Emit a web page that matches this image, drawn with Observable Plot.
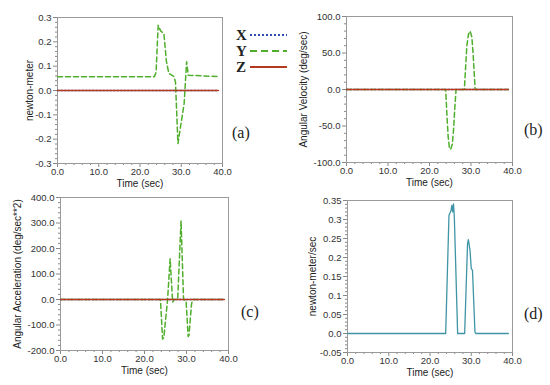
<!DOCTYPE html>
<html>
<head>
<meta charset="utf-8">
<script src="https://cdn.jsdelivr.net/npm/d3@7"></script>
<script src="https://cdn.jsdelivr.net/npm/@observablehq/plot@0.6"></script>
<style>
  html, body { margin: 0; padding: 0; background: #fff; }
  #wrap { position: relative; width: 550px; height: 385px; overflow: hidden; font-family: "Liberation Sans", Arial, sans-serif; }
  #wrap > .p { position: absolute; }
  .tag { position: absolute; font-family: "Liberation Serif", "Times New Roman", serif; font-size: 16px; color: #222; }
  .leg { position: absolute; left: 236px; top: 27px; font-family: "Liberation Serif", "Times New Roman", serif; font-weight: bold; font-size: 15px; color: #222; }
  .leg div { height: 16px; line-height: 16px; display: flex; align-items: center; }
  .leg span { display: inline-block; width: 14px; }
</style>
</head>
<body>
<div id="wrap"></div>
<script>
// ---------- data ----------
const xTicks = [0, 10, 20, 30, 40];
const xMinor = [2, 4, 6, 8, 12, 14, 16, 18, 22, 24, 26, 28, 32, 34, 36, 38];
const seriesNames = ["X", "Y", "Z"];
const seriesColors = ["#2f4fb8", "#4fae2c", "#b5391f"];

// (a) torque, newton-meter
const aTime = [0, 23.5, 23.9, 24.4, 25.0, 25.8, 26.4, 27.0, 28.2, 28.6, 29.2, 30.7, 31.3, 31.7, 39];
const aY    = [0.057, 0.057, 0.075, 0.268, 0.245, 0.234, 0.12, 0.07, 0.058, 0.035, -0.218, -0.053, 0.118, 0.063, 0.057];
const aXTime = [0, 39];
const aX     = [0, 0];
const aZTime = [0, 39];
const aZ     = [0, 0];
const aYTicks = [-0.3, -0.2, -0.1, 0, 0.1, 0.2, 0.3];

// (b) angular velocity, deg/sec
const bTime = [0, 23.9, 24.2, 24.5, 24.8, 25.1, 25.5, 25.8, 26.1, 26.4, 28.4, 28.7, 29.0, 29.4, 29.8, 30.2, 30.5, 30.8, 31.0, 39];
const bY    = [0, 0, -35, -65, -80, -82, -75, -55, -25, 0, 0, 30, 60, 76, 80, 72, 50, 20, 0, 0];
const bX    = [0, 0];
const bZ    = [0, 0];
const bYTicks = [-100, -50, 0, 50, 100];

// (c) angular acceleration, deg/sec**2
const cTime = [0, 23.8, 24.3, 24.6, 25.5, 26.1, 26.7, 27.1, 27.9, 28.7, 29.3, 29.9, 30.4, 30.6, 31.2, 31.5, 39];
const cY    = [0, 0, -155, -150, 0, 160, -10, 0, 0, 308, 0, -5, -145, -140, -17, 0, 0];
const cX    = [0, 0];
const cZ    = [0, 0];
const cYTicks = [-200, -100, 0, 100, 200, 300, 400];

// (d) newton-meter/sec
const dTime = [0, 23.8, 24.6, 25.1, 25.3, 25.5, 25.7, 25.9, 26.7, 28.4, 29.1, 29.3, 29.7, 30.0, 30.3, 30.9, 31.1, 39];
const dVal  = [0, 0, 0.311, 0.324, 0.337, 0.32, 0.341, 0.306, 0, 0, 0.236, 0.247, 0.219, 0.171, 0.166, 0.004, 0, 0];
const dYTicks = [-0.05, 0, 0.05, 0.1, 0.15, 0.2, 0.25, 0.3, 0.35];
const dColor = "#3f95a6";

// ---------- helpers ----------
const wrap = document.getElementById("wrap");
const toRows = (ts, vs) => ts.map((t, i) => ({t, v: vs[i]}));
function minorBetween(ticks, n) {
  const out = [];
  for (let i = 0; i < ticks.length - 1; i++) {
    const a = ticks[i], b = ticks[i + 1];
    for (let k = 1; k < n; k++) out.push(a + (b - a) * k / n);
  }
  return out;
}
const fmt1 = d => (Math.abs(d) < 1e-9 ? 0 : d).toFixed(1);
const fmtD = d => Math.abs(d) < 1e-9 ? "0.0" : String(+d.toFixed(2));

function panel(o) {
  const yDom = [o.yTicks[0], o.yTicks[o.yTicks.length - 1]];
  const marks = [
    Plot.axisX(xTicks, {tickSize: 4, tickFormat: fmt1, fontSize: 9.5, label: null, stroke: "#888", tickPadding: 1, fill: "#333"}),
    Plot.axisX(xMinor, {tickSize: 2, text: null, label: null, stroke: "#888"}),
    Plot.axisY(o.yTicks, {tickSize: 4, tickFormat: o.yFmt, fontSize: 9.5, label: null, stroke: "#888", tickPadding: 2, fill: "#333"}),
    Plot.axisY(minorBetween(o.yTicks, o.yMinorN), {tickSize: 2, text: null, label: null, stroke: "#888"}),
    Plot.frame({stroke: "#9a9a9a"}),
    Plot.text(["Time (sec)"], {text: d => d, frameAnchor: "bottom", lineAnchor: "middle", dy: o.xLabelDy, fontSize: 10, fill: "#222"}),
    Plot.text([o.yLabel], {text: d => d, frameAnchor: "left", textAnchor: "middle", lineAnchor: "middle", dx: -o.yLabelDx, rotate: -90, fontSize: 10, fill: "#222"})
  ];
  for (const s of o.series) {
    marks.push(Plot.line(toRows(s.t, s.v), {x: "t", y: "v", stroke: s.color, strokeWidth: s.w || 1.5, strokeDasharray: s.dash || null}));
  }
  const svg = Plot.plot({
    width: o.width, height: o.height,
    marginLeft: o.ml, marginRight: o.mr, marginTop: o.mt, marginBottom: o.mb,
    x: {domain: [0, 40]},
    y: {domain: yDom},
    style: {fontFamily: "'Liberation Sans', Arial, sans-serif", fontSize: "9.5px", background: "transparent", overflow: "visible"},
    marks
  });
  svg.classList.add("p");
  svg.style.left = o.left + "px";
  svg.style.top = o.top + "px";
  wrap.appendChild(svg);
}

const dots = "1.5 2", dashes = "5 3";

panel({
  left: 0, top: 0, width: 230, height: 192, ml: 57, mr: 8, mt: 17, mb: 29,
  yTicks: aYTicks, yMinorN: 5, yFmt: fmt1, yLabel: "newton-meter", yLabelDx: 28, xLabelDy: 20,
  series: [
    {t: aXTime, v: aX, color: seriesColors[0], dash: dots},
    {t: aTime, v: aY, color: seriesColors[1], dash: dashes},
    {t: aZTime, v: aZ, color: seriesColors[2]}
  ]
});
panel({
  left: 280, top: 0, width: 240, height: 192, ml: 66, mr: 8, mt: 16, mb: 30,
  yTicks: bYTicks, yMinorN: 5, yFmt: fmt1, yLabel: "Angular Velocity (deg/sec)", yLabelDx: 43, xLabelDy: 20,
  series: [
    {t: aXTime, v: bX, color: seriesColors[0], dash: dots},
    {t: bTime, v: bY, color: seriesColors[1], dash: dashes},
    {t: aZTime, v: bZ, color: seriesColors[2]}
  ]
});
panel({
  left: 0, top: 190, width: 240, height: 195, ml: 60, mr: 12, mt: 7, mb: 35,
  yTicks: cYTicks, yMinorN: 5, yFmt: fmt1, yLabel: "Angular Acceleration (deg/sec**2)", yLabelDx: 43, xLabelDy: 20,
  series: [
    {t: aXTime, v: cX, color: seriesColors[0], dash: dots},
    {t: cTime, v: cY, color: seriesColors[1], dash: dashes},
    {t: aZTime, v: cZ, color: seriesColors[2]}
  ]
});
panel({
  left: 280, top: 190, width: 240, height: 195, ml: 67, mr: 8, mt: 10, mb: 33,
  yTicks: dYTicks, yMinorN: 5, yFmt: fmtD, yLabel: "newton-meter/sec", yLabelDx: 35, xLabelDy: 20,
  series: [
    {t: dTime, v: dVal, color: dColor, w: 1.3}
  ]
});

// legend
const leg = document.createElement("div");
leg.className = "leg";
seriesNames.forEach((n, i) => {
  const row = document.createElement("div");
  const dash = i === 0 ? "2 2" : i === 1 ? "7 4" : "none";
  row.innerHTML = `<span>${n}</span><svg width="37" height="6"><line x1="0" y1="3" x2="37" y2="3" stroke="${seriesColors[i]}" stroke-width="2" stroke-dasharray="${dash}"/></svg>`;
  leg.appendChild(row);
});
wrap.appendChild(leg);

// panel tags
[["(a)", 232, 124], ["(b)", 524, 121], ["(c)", 241, 303], ["(d)", 524, 305]].forEach(([s, x, y]) => {
  const d = document.createElement("div");
  d.className = "tag";
  d.textContent = s;
  d.style.left = x + "px";
  d.style.top = y + "px";
  wrap.appendChild(d);
});
</script>
</body>
</html>
